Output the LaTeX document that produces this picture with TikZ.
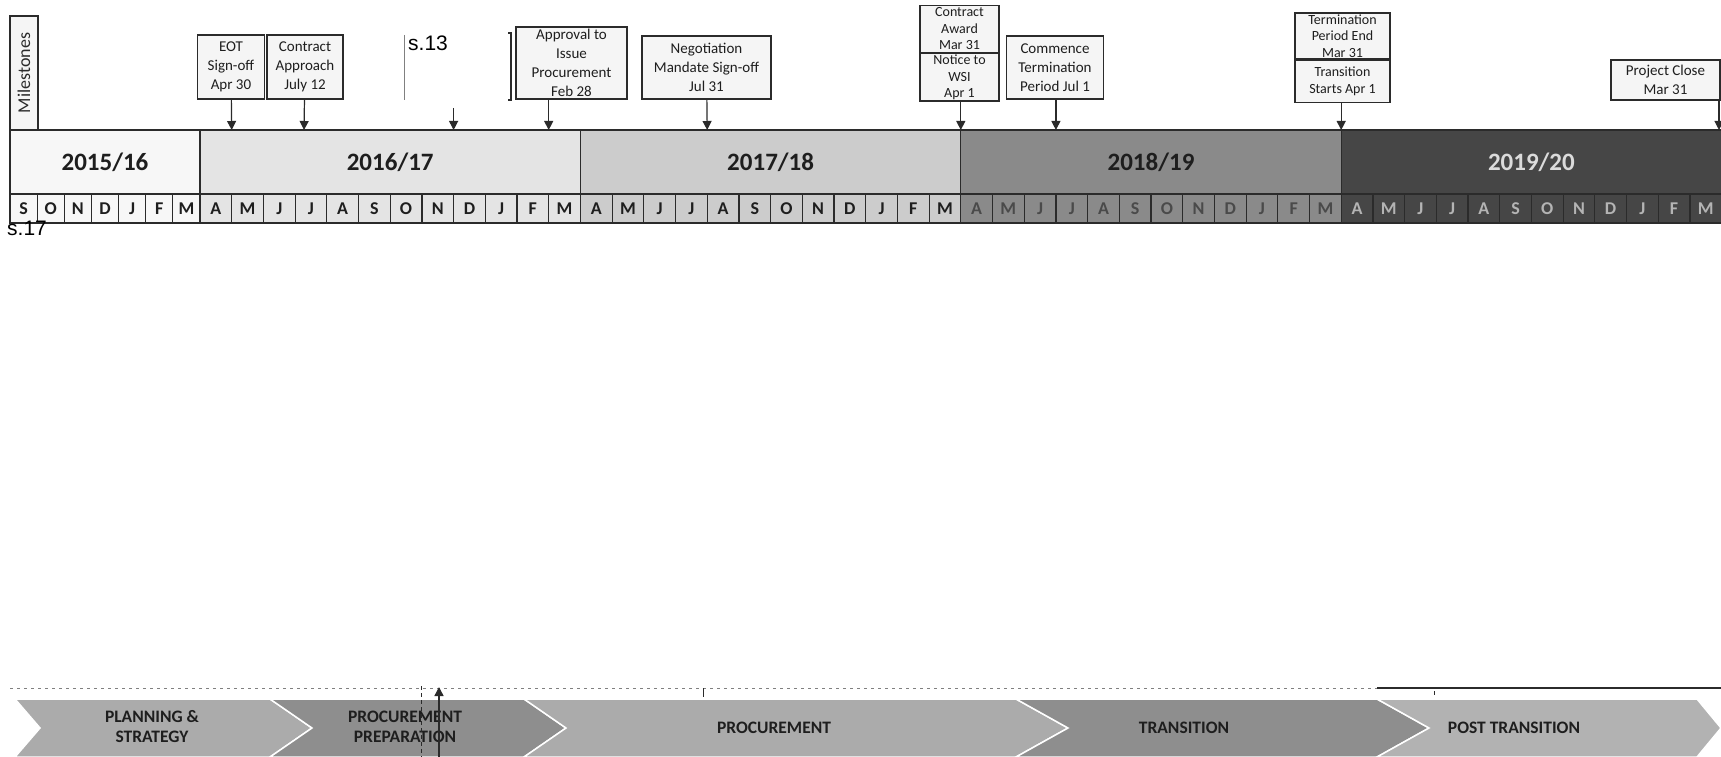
\documentclass[tikz,border=0pt]{standalone}
\usepackage{fontspec}
\setmainfont{Carlito}
\newfontfamily\scanfont{Liberation Sans}
\usetikzlibrary{arrows.meta}

\definecolor{lineC}{HTML}{2B2B2B}
\definecolor{boxC}{HTML}{F5F5F5}
\definecolor{txA}{HTML}{1E1E1E}
\definecolor{txD}{HTML}{4A4A4A}
\definecolor{txE}{HTML}{B4B4B4}
\definecolor{yrA}{HTML}{F7F7F7}
\definecolor{yrB}{HTML}{E4E4E4}
\definecolor{yrC}{HTML}{CCCCCC}
\definecolor{yrD}{HTML}{8A8A8A}
\definecolor{yrE}{HTML}{464646}
\definecolor{chA}{HTML}{ABABAB}
\definecolor{chB}{HTML}{8E8E8E}
\definecolor{chC}{HTML}{B2B2B2}

\tikzset{
  cell/.style={draw=lineC, line width=1.2},
  milebox/.style={draw=lineC, fill=boxC, line width=1.2, inner sep=0pt, align=center, text=txA, font=\fontsize{15}{19}\selectfont},
  tightbox/.style={milebox, font=\fontsize{14}{16.5}\selectfont},
  milearrow/.style={draw=lineC, line width=1.2, -{Triangle[length=9,width=9]}},
  mon/.style={inner sep=0pt, font=\bfseries\fontsize{18}{18}\selectfont},
  yr/.style={inner sep=0pt, font=\bfseries\fontsize{25}{25}\selectfont},
  phase/.style={inner sep=0pt, align=center, text=txA, font=\bfseries\fontsize{17.5}{20}\selectfont},
  scan/.style={inner sep=0pt, anchor=north west, font=\scanfont\fontsize{21}{21}\selectfont}
}

\begin{document}
\begin{tikzpicture}[x=1pt,y=1pt,yscale=-1,xscale=1]
\useasboundingbox (0,0) rectangle (1721,757);

%Shape: year bands
\foreach \x/\w/\c in {10/190/yrA, 200/380.4/yrB, 580.4/380.4/yrC, 960.8/380.4/yrD, 1341.2/380.4/yrE}
  \draw[cell, fill=\c] (\x,130) rectangle ++(\w,93);

%Shape: month cells 2015/16
\foreach \m [count=\i from 0] in {S,O,N,D,J,F,M}{
  \draw[cell] (10+\i*27.14,194) rectangle ++(27.14,29);
  \node[mon, text=txA] (ms-\i) at (23.57+\i*27.14,208.5) {\m};
}
%Shape: month cells 2016/17 to 2019/20
\foreach \c/\t [count=\k from 0] in {yrB/txA, yrC/txA, yrD/txD, yrE/txE}{
  \foreach \m [count=\i from 0] in {A,M,J,J,A,S,O,N,D,J,F,M}{
    \draw[cell] (200+\k*380.4+\i*31.7,194) rectangle ++(31.7,29);
    \node[mon, text=\t] (m\k-\i) at (215.85+\k*380.4+\i*31.7,208.5) {\m};
  }
}

% Text Node
\node[yr, text=txA] (fy15) at (105,162) {2015/16};
% Text Node
\node[yr, text=txA] (fy16) at (390.2,162) {2016/17};
% Text Node
\node[yr, text=txA] (fy17) at (770.6,162) {2017/18};
% Text Node
\node[yr, text=txA] (fy18) at (1151,162) {2018/19};
% Text Node
\node[yr, text=white!86!black] (fy19) at (1531.4,162) {2019/20};

%Shape: Milestones tab
\node[milebox, rotate=90, minimum width=114, minimum height=28, text=lineC, font=\fontsize{18}{18}\selectfont] (mst) at (24,73) {Milestones};

% dates on the timeline
\coordinate (tApr) at (231.7,130);
\coordinate (tJul) at (304,130);
\coordinate (tNovUp) at (453.6,108);
\coordinate (tNov) at (453.6,130);
\coordinate (tFeb) at (548.7,130);
\coordinate (tJul2) at (707.2,130);
\coordinate (tApr2) at (960.8,130);
\coordinate (tJul3) at (1055.9,130);
\coordinate (tApr3) at (1341.2,130);
\coordinate (tMar) at (1719,130);

%Shape: milestone boxes
\node[milebox, minimum width=67, minimum height=64] (eot) at (231,67) {EOT\\Sign-off\\Apr 30};
\node[milebox, minimum width=76, minimum height=64] (appr) at (305,67) {Contract\\Approach\\July 12};
\node[milebox, minimum width=111, minimum height=72] (issue) at (571.5,63) {Approval to\\Issue\\Procurement\\Feb 28};
\node[milebox, minimum width=129, minimum height=63] (mand) at (706.5,67.5) {Negotiation\\Mandate Sign-off\\Jul 31};
\node[tightbox, minimum width=79, minimum height=47] (award) at (959.5,29) {Contract\\Award\\Mar 31};
\node[tightbox, minimum width=79, minimum height=47.3, anchor=north] (notice) at (award.south) {Notice to\\WSI\\Apr 1};
\node[milebox, minimum width=97, minimum height=63] (comm) at (1055,67.5) {Commence\\Termination\\Period Jul 1};
\node[tightbox, minimum width=95, minimum height=46] (tend) at (1342.5,36) {Termination\\Period End\\Mar 31};
\node[tightbox, minimum width=95, minimum height=42, anchor=north] (trans) at (tend.south) {Transition\\Starts Apr 1};
\node[milebox, minimum width=109, minimum height=40] (close) at (1665.5,80) {Project Close\\Mar 31};

%Straight Lines: milestone arrows
\draw[milearrow] (eot) -- (tApr);
\draw[milearrow] (appr) -- (tJul);
\draw[milearrow] (tNovUp) -- (tNov);
\draw[milearrow] (issue.south -| tFeb) -- (tFeb);
\draw[milearrow] (mand) -- (tJul2);
\draw[milearrow] (notice.south -| tApr2) -- (tApr2);
\draw[milearrow] (comm.south -| tJul3) -- (tJul3);
\draw[milearrow] (trans.south -| tApr3) -- (tApr3);
\draw[milearrow] (close.south -| tMar) -- (tMar);

%Straight Lines: redaction marks
\draw[gray, line width=0.8] (404,35) -- (404,100);
\draw[lineC, line width=1.5] (508,33) -- (511,33) -- (511,100) -- (508,100);

% Text Node
\node[scan] (s13) at (408,36) {s.13};
% Text Node
\node[scan] (s17) at (7,221) {s.17};

%Shape: phase chevrons
\foreach \a/\b/\n/\d/\c in {15/270/25/42/chA, 270/524/42/42/chB, 524/1016/42/52/chA, 1016/1377/52/52/chB, 1377/1697/52/24/chC}
  \draw[white, line width=1.5, fill=\c] (\a,699) -- (\b,699) -- (\b+\d,728) -- (\b,757) -- (\a,757) -- (\a+\n,728) -- cycle;

% Text Node
\node[phase] (plan) at (152,727) {PLANNING \&\\STRATEGY};
% Text Node
\node[phase] (prep) at (405,727) {PROCUREMENT\\PREPARATION};
% Text Node
\node[phase] (proc) at (774,728) {PROCUREMENT};
% Text Node
\node[phase] (tran) at (1184,728) {TRANSITION};
% Text Node
\node[phase] (post) at (1514,728) {POST TRANSITION};

%Straight Lines: lower scale
\draw[gray, line width=0.8, dash pattern={on 3pt off 4pt}] (10,688) -- (1377,688);
\draw[lineC, line width=1.2] (1377,688) -- (1721,688);
\draw[lineC, line width=1.2] (703.5,688) -- (703.5,697);
\draw[lineC, line width=0.8] (1434,691) -- (1434,695);
\draw[lineC, line width=0.8, dash pattern={on 4pt off 3pt}] (421,686) -- (421,757);
\coordinate (pLow) at (439,757);
\coordinate (pTop) at (439,687);
\draw[milearrow, line width=1.4] (pLow) -- (pTop);

\end{tikzpicture}
\end{document}
